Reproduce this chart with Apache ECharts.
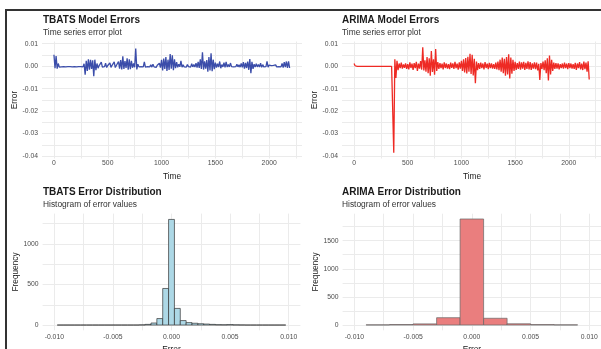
<!DOCTYPE html>
<html><head><meta charset="utf-8">
<script src="https://cdn.jsdelivr.net/npm/echarts@6/dist/echarts.min.js"></script>
<style>html,body{margin:0;padding:0;background:#fff}#c{width:601px;height:349px}</style>
</head><body><div id="c"></div>
<script>
// ---- data ----
const TIME_STEP = 10; // one stored value per 10 time steps
const tbatsErrors = [
0.0051,-0.0009,0.0045,-0.0011,0.0012,-0.0004,0.0002,-0.0003,0.0003,-0.0002,
0.0001,-0.0003,0.0002,-0.0002,0.0004,-0.0002,0.0002,-0.0003,0.0003,-0.0002,
0.0002,-0.0003,0.0001,-0.0002,0.0003,-0.0002,0.0002,-0.0003,0.0011,-0.0038,
0.0024,-0.0021,0.0031,-0.0015,0.0028,-0.0012,0.0026,-0.0045,0.0029,-0.0018,
0.0012,-0.0009,0.0003,-0.0003,0.0018,-0.0004,0.0004,-0.0002,0.0013,-0.0006,
0.0003,-0.0002,0.0015,-0.0005,0.0004,-0.0003,0.0019,-0.0006,0.0003,-0.0002,
0.0021,-0.0011,0.0027,-0.0014,0.0044,-0.0012,0.0023,-0.0008,0.0035,-0.0016,
0.0031,-0.0013,0.0024,-0.0007,0.0012,-0.0005,0.0079,-0.0014,0.0009,-0.0003,
0.0004,-0.0002,0.0003,-0.0003,0.0019,-0.0004,0.0003,-0.0002,0.0004,-0.0003,
0.0006,-0.0004,0.0009,-0.0003,0.0005,-0.0005,0.0004,-0.0002,0.0013,-0.0006,
0.0028,-0.0019,0.0034,-0.0012,0.0041,-0.0021,0.0029,-0.0017,0.0054,-0.0011,
0.0049,-0.0018,0.0031,-0.0009,0.0018,-0.0005,0.0009,-0.0003,0.0024,-0.0004,
0.0006,-0.0003,0.0004,-0.0004,0.0008,-0.0002,0.0005,-0.0004,0.0011,-0.0003,
0.0007,-0.0004,0.0014,-0.0006,0.0019,-0.0008,0.0031,-0.0012,0.0062,-0.0015,
0.0022,-0.0011,0.0027,-0.0024,0.0041,-0.0019,0.0058,-0.0022,0.0029,-0.0013,
0.0016,-0.0006,0.0011,-0.0004,0.0021,-0.0009,0.0007,-0.0003,0.0016,-0.0005,
0.0019,-0.0004,0.0008,-0.0003,0.0014,-0.0002,0.0006,-0.0003,0.0005,-0.0002,
0.0009,-0.0003,0.0006,-0.0004,0.0012,-0.0005,0.0018,-0.0011,0.0015,-0.0008,
0.0021,-0.0016,0.0032,-0.0031,0.0019,-0.0012,0.0009,-0.0004,0.0011,-0.0003,
0.0008,-0.0004,0.0013,-0.0005,0.0007,-0.0003,0.0004,-0.0002,0.0021,-0.0004,
0.0005,-0.0002,0.0003,-0.0003,0.0004,-0.0002,0.0006,-0.0003,0.0004,-0.0002,
0.0005,-0.0003,0.0012,-0.0006,0.0018,-0.0004,0.0021,-0.0007,0.0022,-0.0008
];
const arimaErrors = [
0.0012,0.0002,-0.0001,-0.0001,-0.0001,-0.0001,-0.0001,-0.0001,-0.0001,-0.0001,
-0.0001,-0.0001,-0.0001,-0.0001,-0.0001,-0.0001,-0.0001,-0.0001,-0.0001,-0.0001,
-0.0001,-0.0001,-0.0001,-0.0001,-0.0001,-0.0001,-0.0001,-0.0001,-0.0001,-0.0001,
-0.0001,-0.0001,-0.0001,-0.0001,-0.0001,-0.0001,-0.0001,-0.0385,0.0031,-0.0052,
0.0024,-0.0018,0.0012,-0.0009,0.0016,-0.0011,0.0008,-0.0007,0.0013,-0.0012,
0.0009,-0.0014,0.0017,-0.0008,0.0011,-0.0016,0.0014,-0.0009,0.0019,-0.0021,
0.0012,-0.0011,0.0023,-0.0015,0.0084,-0.0019,0.0026,-0.0024,0.0041,-0.0031,
0.0035,-0.0042,0.0068,-0.0026,0.0031,-0.0038,0.0077,-0.0021,0.0018,-0.0012,
0.0014,-0.0009,0.0011,-0.0014,0.0017,-0.0008,0.0012,-0.0011,0.0009,-0.0013,
0.0016,-0.0007,0.0013,-0.0012,0.0019,-0.0009,0.0011,-0.0015,0.0017,-0.0011,
0.0024,-0.0021,0.0031,-0.0028,0.0036,-0.0032,0.0042,-0.0024,0.0055,-0.0035,
0.0051,-0.0041,0.0033,-0.0076,0.0021,-0.0018,0.0014,-0.0012,0.0016,-0.0009,
0.0012,-0.0014,0.0018,-0.0008,0.0011,-0.0013,0.0015,-0.0009,0.0013,-0.0011,
0.0009,-0.0012,0.0016,-0.0014,0.0021,-0.0018,0.0029,-0.0024,0.0038,-0.0031,
0.0033,-0.0042,0.0041,-0.0037,0.0053,-0.0055,0.0039,-0.0033,0.0028,-0.0021,
0.0019,-0.0016,0.0014,-0.0012,0.0021,-0.0015,0.0017,-0.0011,0.0019,-0.0017,
0.0015,-0.0012,0.0022,-0.0014,0.0018,-0.0016,0.0013,-0.0011,0.0017,-0.0013,
0.0016,-0.0019,0.0011,-0.0061,0.0014,-0.0012,0.0021,-0.0018,0.0026,-0.0031,
0.0035,-0.0064,0.0048,-0.0037,0.0029,-0.0021,0.0016,-0.0012,0.0014,-0.0011,
0.0013,-0.0014,0.0009,-0.0008,0.0012,-0.0011,0.0016,-0.0009,0.0011,-0.0013,
0.0014,-0.0008,0.0012,-0.0011,0.0009,-0.0012,0.0015,-0.0016,0.0012,-0.0009,
0.0018,-0.0014,0.0011,-0.0017,0.0021,-0.0013,0.0016,-0.0024,0.0022,-0.0059
];
const tbatsBinWidth = 0.0005;
const tbatsBinCenters = [-0.0095,-0.009,-0.0085,-0.008,-0.0075,-0.007,-0.0065,-0.006,-0.0055,-0.005,
  -0.0045,-0.004,-0.0035,-0.003,-0.0025,-0.002,-0.0015,-0.001,-0.0005,0,
  0.0005,0.001,0.0015,0.002,0.0025,0.003,0.0035,0.004,0.0045,0.005,
  0.0055,0.006,0.0065,0.007,0.0075,0.008,0.0085,0.009,0.0095];
const tbatsCounts = [0,0,0,0,0,0,0,0,0,0,
  0,0,0,0,2,8,25,80,451,1303,
  205,55,30,22,16,12,8,4,3,5,
  2,1,0,0,0,0,0,0,0];
const arimaBinWidth = 0.002;
const arimaBinCenters = [-0.008,-0.006,-0.004,-0.002,0,0.002,0.004,0.006,0.008];
const arimaCounts = [3,9,20,130,1886,120,22,8,3];

const timeTicks = [0,500,1000,1500,2000];
const timeGrid = [0,250,500,750,1000,1250,1500,1750,2000,2250];
const errTicks = [-0.04,-0.03,-0.02,-0.01,0,0.01];
const errGrid = [-0.04,-0.035,-0.03,-0.025,-0.02,-0.015,-0.01,-0.005,0,0.005,0.01];
const histXTicks = [-0.01,-0.005,0,0.005,0.01];
const histXGrid = [-0.01,-0.0075,-0.005,-0.0025,0,0.0025,0.005,0.0075,0.01];
const tbatsFreqTicks = [0,500,1000];
const tbatsFreqGrid = [0,250,500,750,1000,1250];
const arimaFreqTicks = [0,500,1000,1500];
const arimaFreqGrid = [0,250,500,750,1000,1250,1500,1750];

// ---- chart ----
const FONT = "'Liberation Sans', Arial, sans-serif";
const GRID_COLOR = '#EBEBEB';
const tsPairs = arr => arr.map((v, i) => [i * TIME_STEP, v]);
const binItems = (centers, width, counts) => centers.map((c, i) => [c - width / 2, c + width / 2, counts[i]]);

function axis(o) {
  return {
    type: 'value', gridIndex: o.g, min: o.min, max: o.max,
    name: o.name, nameLocation: 'middle', nameGap: o.nameGap,
    nameTextStyle: { fontSize: 8.3, color: '#1A1A1A', fontFamily: FONT },
    axisLine: { show: false },
    axisTick: { show: false, customValues: o.grid },
    splitLine: { show: true, lineStyle: { color: GRID_COLOR, width: 1 } },
    axisLabel: { customValues: o.ticks, color: '#4D4D4D', fontSize: 6.8, fontFamily: FONT,
      margin: o.margin, formatter: o.fmt, showMinLabel: true, showMaxLabel: true, hideOverlap: false }
  };
}
function titleAt(left, top, text, sub) {
  return { text, subtext: sub, left, top, padding: 0, itemGap: 4,
    textStyle: { fontSize: 10, fontWeight: 'bold', color: '#1A1A1A', fontFamily: FONT },
    subtextStyle: { fontSize: 8.4, color: '#333333', fontFamily: FONT } };
}
function histSeries(idx, items, fill, stroke) {
  return {
    type: 'custom', xAxisIndex: idx, yAxisIndex: idx, data: items,
    encode: { x: [0, 1], y: 2 },
    renderItem: (params, api) => {
      const p0 = api.coord([api.value(0), api.value(2)]);
      const p1 = api.coord([api.value(1), 0]);
      return { type: 'rect',
        shape: { x: p0[0], y: p0[1], width: p1[0] - p0[0], height: p1[1] - p0[1] },
        style: { fill, stroke, lineWidth: 0.7 } };
    }
  };
}
const gridBox = (left, top, width, height) => ({ left, top, width, height, containLabel: false, outerBoundsMode: 'none' });

const chart = echarts.init(document.getElementById('c'), null, { renderer: 'canvas' });
chart.setOption({
  animation: false,
  backgroundColor: '#ffffff',
  textStyle: { fontFamily: FONT },
  title: [
    titleAt(43, 15, 'TBATS Model Errors', 'Time series error plot'),
    titleAt(342, 15, 'ARIMA Model Errors', 'Time series error plot'),
    titleAt(43, 187, 'TBATS Error Distribution', 'Histogram of error values'),
    titleAt(342, 187, 'ARIMA Error Distribution', 'Histogram of error values')
  ],
  grid: [
    gridBox(42, 41.5, 260, 117),
    gridBox(342, 41.5, 260, 117),
    gridBox(42.6, 213.6, 257.8, 116.7),
    gridBox(342.6, 213.7, 258.5, 116.6)
  ],
  xAxis: [
    axis({ g: 0, min: -111, max: 2305, ticks: timeTicks, grid: timeGrid, name: 'Time', nameGap: 14, margin: 1.5, fmt: v => String(v) }),
    axis({ g: 1, min: -112, max: 2309, ticks: timeTicks, grid: timeGrid, name: 'Time', nameGap: 14, margin: 1.5, fmt: v => String(v) }),
    axis({ g: 2, min: -0.011, max: 0.011, ticks: histXTicks, grid: histXGrid, name: 'Error', nameGap: 15, margin: 3, fmt: v => v.toFixed(3) }),
    axis({ g: 3, min: -0.011, max: 0.011, ticks: histXTicks, grid: histXGrid, name: 'Error', nameGap: 15, margin: 3, fmt: v => v.toFixed(3) })
  ],
  yAxis: [
    axis({ g: 0, min: -0.0411, max: 0.011, ticks: errTicks, grid: errGrid, name: 'Error', nameGap: 23, margin: 4, fmt: v => v.toFixed(2) }),
    axis({ g: 1, min: -0.0411, max: 0.011, ticks: errTicks, grid: errGrid, name: 'Error', nameGap: 23, margin: 4, fmt: v => v.toFixed(2) }),
    axis({ g: 2, min: -65, max: 1375, ticks: tbatsFreqTicks, grid: tbatsFreqGrid, name: 'Frequency', nameGap: 23, margin: 4, fmt: v => String(v) }),
    axis({ g: 3, min: -94, max: 1980, ticks: arimaFreqTicks, grid: arimaFreqGrid, name: 'Frequency', nameGap: 23, margin: 4, fmt: v => String(v) })
  ],
  series: [
    { type: 'line', xAxisIndex: 0, yAxisIndex: 0, data: tsPairs(tbatsErrors), showSymbol: false,
      lineStyle: { color: '#3B4DAA', width: 1.3 }, itemStyle: { color: '#3B4DAA' } },
    { type: 'line', xAxisIndex: 1, yAxisIndex: 1, data: tsPairs(arimaErrors), showSymbol: false,
      lineStyle: { color: '#EE2A24', width: 1.3 }, itemStyle: { color: '#EE2A24' } },
    histSeries(2, binItems(tbatsBinCenters, tbatsBinWidth, tbatsCounts), '#ADD8E6', '#333333'),
    histSeries(3, binItems(arimaBinCenters, arimaBinWidth, arimaCounts), '#EA7E7E', '#666666')
  ],
  graphic: [
    { type: 'line', shape: { x1: 5, y1: 10, x2: 601, y2: 10 }, style: { stroke: '#333333', lineWidth: 2 }, z: 100 },
    { type: 'line', shape: { x1: 6, y1: 9, x2: 6, y2: 349 }, style: { stroke: '#333333', lineWidth: 2 }, z: 100 }
  ]
});
</script>
</body></html>
